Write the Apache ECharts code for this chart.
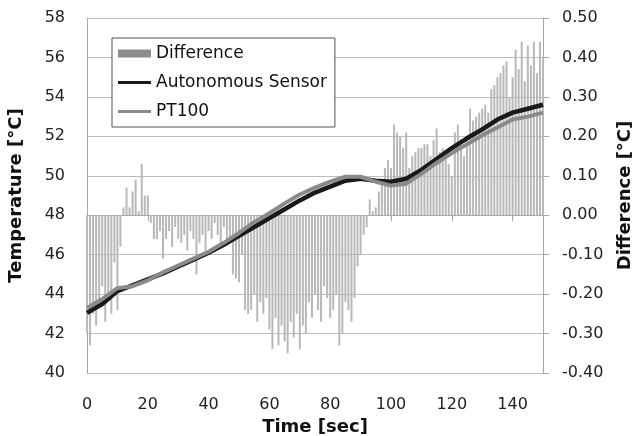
<!DOCTYPE html>
<html>
<head>
<meta charset="utf-8">
<script src="https://cdn.jsdelivr.net/npm/echarts@6/dist/echarts.min.js"></script>
<style>
  html, body { margin: 0; padding: 0; background: #fff; }
  #chart { width: 636px; height: 436px; }
</style>
</head>
<body>
<div id="chart"></div>
<script>
// temperature curves, read every 5 s
const tempTime = [0, 5, 10, 15, 20, 25, 30, 35, 40, 45, 50, 55, 60, 65, 70, 75, 80, 85, 90, 95, 100, 105, 110, 115, 120, 125, 130, 135, 140, 145, 150];
const autonomous = [43.05, 43.5, 44.15, 44.45, 44.75, 45.05, 45.4, 45.75, 46.1, 46.5, 46.95, 47.4, 47.85, 48.3, 48.75, 49.15, 49.45, 49.75, 49.85, 49.75, 49.7, 49.85, 50.3, 50.85, 51.4, 51.9, 52.35, 52.85, 53.2, 53.4, 53.6];
const pt100 = [43.3, 43.75, 44.3, 44.4, 44.7, 45.1, 45.45, 45.8, 46.15, 46.6, 47.1, 47.65, 48.1, 48.6, 49.05, 49.4, 49.7, 49.95, 49.95, 49.7, 49.5, 49.6, 50.1, 50.65, 51.15, 51.6, 52.05, 52.45, 52.85, 53.0, 53.2];

// difference bars, one per second from t = 0
const difference = [
  -0.30, -0.33, -0.25, -0.28, -0.22, -0.18, -0.27, -0.20, -0.25, -0.12,
  -0.24, -0.08, 0.02, 0.07, 0.02, 0.06, 0.09, 0.01, 0.13, 0.05,
  0.05, -0.02, -0.06, -0.06, -0.04, -0.11, -0.06, -0.04, -0.08, -0.03,
  -0.06, -0.07, -0.05, -0.09, -0.04, -0.06, -0.15, -0.07, -0.05, -0.09,
  -0.04, -0.06, -0.02, -0.05, -0.08, -0.03, -0.07, -0.06, -0.15, -0.16,
  -0.17, -0.10, -0.24, -0.25, -0.24, -0.20, -0.27, -0.22, -0.25, -0.21,
  -0.29, -0.34, -0.26, -0.33, -0.28, -0.32, -0.35, -0.27, -0.31, -0.25,
  -0.34, -0.28, -0.30, -0.22, -0.26, -0.20, -0.24, -0.27, -0.18, -0.21,
  -0.26, -0.24, -0.20, -0.33, -0.30, -0.22, -0.24, -0.27, -0.21, -0.13,
  -0.10, -0.05, -0.03, 0.04, 0.01, 0.02, 0.06, 0.08, 0.12, 0.14,
  0.12, 0.23, 0.21, 0.20, 0.17, 0.21, 0.12, 0.15, 0.16, 0.17,
  0.17, 0.18, 0.18, 0.15, 0.19, 0.22, 0.16, 0.17, 0.15, 0.13,
  0.10, 0.21, 0.23, 0.17, 0.15, 0.20, 0.27, 0.24, 0.25, 0.26,
  0.27, 0.28, 0.26, 0.32, 0.33, 0.35, 0.36, 0.38, 0.39, 0.30,
  0.35, 0.42, 0.37, 0.44, 0.34, 0.43, 0.38, 0.44, 0.36, 0.44,
  0.40
];

const font = 'DejaVu Sans';
const lineIcon = 'path://M0,0H33V3H0Z';
const chart = echarts.init(document.getElementById('chart'));

const option = {
  animation: false,
  textStyle: { fontFamily: font },
  grid: { left: 87, right: 93, top: 18, bottom: 63, outerBoundsMode: 'none' },
  legend: {
    orient: 'vertical',
    left: 112,
    top: 38,
    padding: [7, 8, 7, 6],
    itemGap: 12,
    itemWidth: 33,
    itemHeight: 8,
    itemTextGap: 5,
    symbolKeepAspect: true,
    borderColor: '#555',
    borderWidth: 1,
    backgroundColor: '#fff',
    textStyle: { fontSize: 17, color: '#111', fontFamily: font },
    data: [
      { name: 'Difference', icon: 'rect', itemStyle: { color: '#8c8c8c' } },
      { name: 'Autonomous Sensor', icon: lineIcon },
      { name: 'PT100', icon: lineIcon }
    ]
  },
  xAxis: {
    type: 'value',
    min: 0,
    max: 150,
    interval: 20,
    name: 'Time [sec]',
    nameLocation: 'middle',
    nameGap: 44,
    nameTextStyle: { fontSize: 18, fontWeight: 'bold', color: '#111' },
    axisLine: { lineStyle: { color: '#a6a6a6' } },
    axisTick: { show: true, length: 6, lineStyle: { color: '#a6a6a6' } },
    axisLabel: { fontSize: 16, color: '#222', margin: 24, showMaxLabel: false },
    splitLine: { show: false }
  },
  yAxis: [
    {
      type: 'value',
      min: 40,
      max: 58,
      interval: 2,
      name: 'Temperature [°C]',
      nameLocation: 'middle',
      nameGap: 62,
      nameTextStyle: { fontSize: 18, fontWeight: 'bold', color: '#111' },
      axisLine: { show: true, lineStyle: { color: '#a6a6a6' } },
      axisTick: { show: false },
      axisLabel: { fontSize: 16, color: '#222', margin: 22 },
      splitLine: { lineStyle: { color: '#bcbcbc' } }
    },
    {
      type: 'value',
      position: 'right',
      min: -0.4,
      max: 0.5,
      interval: 0.1,
      name: 'Difference [°C]',
      nameLocation: 'middle',
      nameGap: 73,
      nameRotate: 90,
      nameTextStyle: { fontSize: 18, fontWeight: 'bold', color: '#111' },
      axisLine: { show: true, lineStyle: { color: '#a6a6a6' } },
      axisTick: { show: true, length: 6, lineStyle: { color: '#a6a6a6' } },
      axisLabel: { fontSize: 16, color: '#222', margin: 19, formatter: v => v.toFixed(2) },
      splitLine: { show: false }
    }
  ],
  series: [
    {
      name: 'Difference',
      type: 'bar',
      yAxisIndex: 1,
      barWidth: 2,
      itemStyle: { color: '#b8b8b8' },
      data: difference.map((d, i) => [i, d])
    },
    {
      name: 'Autonomous Sensor',
      type: 'line',
      symbol: 'none',
      color: '#1a1a1a',
      lineStyle: { width: 4.5, color: '#1a1a1a' },
      data: tempTime.map((t, i) => [t, autonomous[i]])
    },
    {
      name: 'PT100',
      type: 'line',
      symbol: 'none',
      color: '#8a8a8a',
      lineStyle: { width: 4, color: '#8a8a8a' },
      data: tempTime.map((t, i) => [t, pt100[i]])
    }
  ]
};

chart.setOption(option);
</script>
</body>
</html>
